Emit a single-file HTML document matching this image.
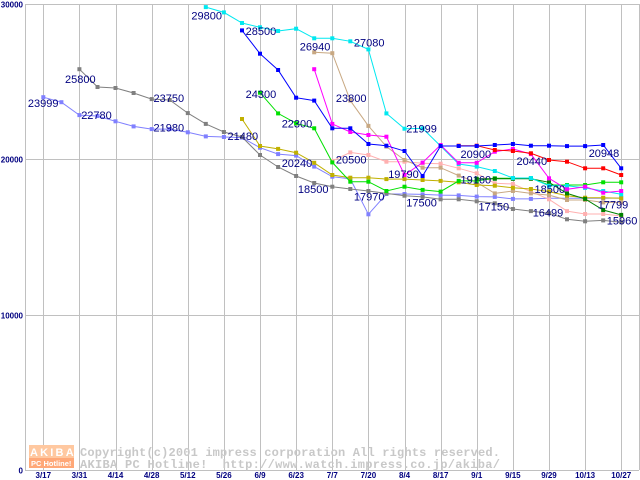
<!DOCTYPE html>
<html><head><meta charset="utf-8"><style>
html,body{margin:0;padding:0;background:#fff;}
svg{display:block;}
.lbl{font-family:"Liberation Sans",sans-serif;font-size:11px;fill:#000080;}
.ax{font-family:"Liberation Sans",sans-serif;font-size:8px;font-weight:bold;fill:#000080;}
.cp{font-family:"Liberation Mono",monospace;font-size:12px;fill:#c8c8c8;font-weight:bold;}
</style></head><body>
<svg id="chart" width="640" height="480" viewBox="0 0 640 480" xmlns="http://www.w3.org/2000/svg">
<g id="grid"></g>
<g id="wm">
  <rect x="29" y="445" width="45" height="13" fill="#ffc8a0"/>
  <rect x="29" y="458" width="45" height="10" fill="#ffa878"/>
  <text x="30" y="456" font-family="Liberation Sans,sans-serif" font-size="11" font-weight="bold" fill="#fff" letter-spacing="2.2">AKIBA</text>
  <text x="31" y="466" font-family="Liberation Sans,sans-serif" font-size="7.5" font-weight="bold" fill="#fff">PC Hotline!</text>
  <text class="cp" x="80" y="456" textLength="420">Copyright(c)2001 impress corporation All rights reserved.</text>
  <text class="cp" x="80" y="468" textLength="420" xml:space="preserve">AKIBA PC Hotline!  http://www.watch.impress.co.jp/akiba/</text>
</g>
<g id="series"></g>
<g id="labels"></g>
<g id="axes"></g>
</svg>
<script>
const xTickLabels = ["3/17","3/31","4/14","4/28","5/12","5/26","6/9","6/23","7/7","7/20","8/4","8/17","9/1","9/15","9/29","10/13","10/27"];
const yTickValues = [0,10000,20000,30000];
const lavenderStart = 0;
const lavenderVals = [23999,23680,22850,22790,22450,22120,21950,21950,21740,21480,21440,21400,20750,20340,20240,19530,18880,18740,16460,17770,17770,17740,17700,17680,17600,17580,17450,17450,17500,17500,17500,17500,17510];
const grayStart = 2;
const grayVals = [25800,24660,24590,24270,23880,23820,22980,22280,21760,21440,20280,19510,18930,18480,18240,18090,17960,17810,17660,17580,17430,17430,17300,17170,16800,16670,16530,16140,16010,16070,15950];
const cyanStart = 9;
const cyanVals = [29800,29460,28780,28500,28260,28410,27790,27790,27600,27080,22960,21970,21990,20860,19700,19530,19250,18800,18800,18300,18300,18160,17960,17750];
const blueStart = 11;
const blueVals = [28300,26800,25750,23970,23780,22000,22000,20990,20880,20540,18930,20860,20860,20860,20920,20990,20880,20880,20850,20850,20920,19420];
const oliveStart = 11;
const oliveVals = [22600,20860,20670,20430,19780,18990,18820,18820,18730,18730,18670,18610,18520,18350,18300,18170,18090,17920,17660,17530,17530,17490];
const greenStart = 12;
const greenVals = [24290,22960,22320,22000,19800,18560,18560,17960,18240,18030,17920,18610,18610,18780,18780,18780,18350,18350,18350,18520,18520];
const tanStart = 15;
const tanVals = [26890,26830,23780,22150,20820,19960,19460,19460,18950,18520,17810,17960,17810,17700,17380,17380,17230,17230];
const magentaStart = 15;
const magentaVals = [25800,22280,21760,21570,21460,18990,19790,20920,19780,19780,20490,20670,20340,18780,18070,18240,17850,17960];
const pinkStart = 16;
const pinkVals = [19900,20450,20280,19850,19850,19750,19720,19420,19100,18460,18410,17920,17430,16670,16480,16480,16350];
const redStart = 23;
const redVals = [20880,20880,20600,20540,20390,19960,19850,19420,19420,18990];
const dgreenStart = 24;
const dgreenVals = [18750,18750,18750,18750,18520,17810,17450,16740,16420];
const labelTexts = ["29800","28500","25800","26940","27080","23999","22780","24300","23800","23750","21980","22300","21999","21480","20500","20240","19790","20900","20440","20948","18500","17970","19160","18500","17500","17150","17799","16499","15960"];
const labelWeeks = [8.2,11.2,1.2,14.2,17.2,-0.85,2.1,11.2,16.2,6.1,6.1,13.2,20.1,10.2,16.2,13.2,19.1,23.1,26.2,30.2,14.1,17.2,23.1,27.2,20.1,24.1,30.7,27.1,31.2];
const labelValues = [29000,28000,24900,27000,27270,23370,22610,23950,23680,23680,21800,22050,21730,21260,19720,19500,18810,20100,19640,20160,17820,17340,18450,17830,16960,16710,16840,16320,15820];

const NS="http://www.w3.org/2000/svg";
function xw(w){return 43.3+18.06*w;}
function yv(v){return 470-v*0.015533;}
function mk(tag,attrs,parent){const e=document.createElementNS(NS,tag);for(const k in attrs)e.setAttribute(k,attrs[k]);parent.appendChild(e);return e;}
const grid=document.getElementById('grid'), axes=document.getElementById('axes'), ser=document.getElementById('series'), lab=document.getElementById('labels');
xTickLabels.forEach((t,i)=>{
  const x=Math.round(xw(i*2))+0.5;
  const l=mk('line',{x1:x,y1:4,x2:x,y2:470,stroke:'#c0c0c0','stroke-width':1},grid);
  
  
  const tx=mk('text',{x:xw(i*2),y:478,'text-anchor':'middle',class:'ax'},axes);
  tx.textContent=t;
  
  
});
yTickValues.forEach(v=>{
  const y=Math.round(yv(v))+0.5;
  const l=mk('line',{x1:25,y1:y,x2:639,y2:y,stroke:'#c0c0c0','stroke-width':1},grid);
  
  
  const tx=mk('text',{x:23,y:y+3,'text-anchor':'end',class:'ax'},axes);
  tx.textContent=String(v);
  
  
});
const rb=mk('line',{x1:639.5,y1:4,x2:639.5,y2:470,stroke:'#c0c0c0'},grid);


const la=mk('line',{x1:25.5,y1:4,x2:25.5,y2:471,stroke:'#c0c0c0'},grid);



function drawSeries(name,start,vals,color){
  const g=mk('g',{},ser);
  
  
  const pts=vals.map((v,i)=>xw(start+i).toFixed(1)+','+yv(v).toFixed(1)).join(' ');
  const pl=mk('polyline',{points:pts,fill:'none',stroke:color,'stroke-width':1},g);
  
  
  vals.forEach((v,i)=>{
    const r=mk('rect',{x:(xw(start+i)-2).toFixed(1),y:(yv(v)-2).toFixed(1),width:4,height:4,fill:color},g);
    
    
  });
}
drawSeries('lavender',lavenderStart,lavenderVals,'#8080ff');
drawSeries('gray',grayStart,grayVals,'#808080');
drawSeries('pink',pinkStart,pinkVals,'#ffb0b0');
drawSeries('tan',tanStart,tanVals,'#c8a882');
drawSeries('olive',oliveStart,oliveVals,'#c0b000');
drawSeries('green',greenStart,greenVals,'#00e000');
drawSeries('dark-green',dgreenStart,dgreenVals,'#008000');
drawSeries('cyan',cyanStart,cyanVals,'#00e8f0');
drawSeries('magenta',magentaStart,magentaVals,'#ff00ff');
drawSeries('red',redStart,redVals,'#ff0000');
drawSeries('blue',blueStart,blueVals,'#0000ff');

labelTexts.forEach((t,i)=>{
  const tx=mk('text',{x:xw(labelWeeks[i]).toFixed(1),y:yv(labelValues[i]).toFixed(1),class:'lbl'},lab);
  tx.textContent=t;
  
  
});
</script>
</body></html>
